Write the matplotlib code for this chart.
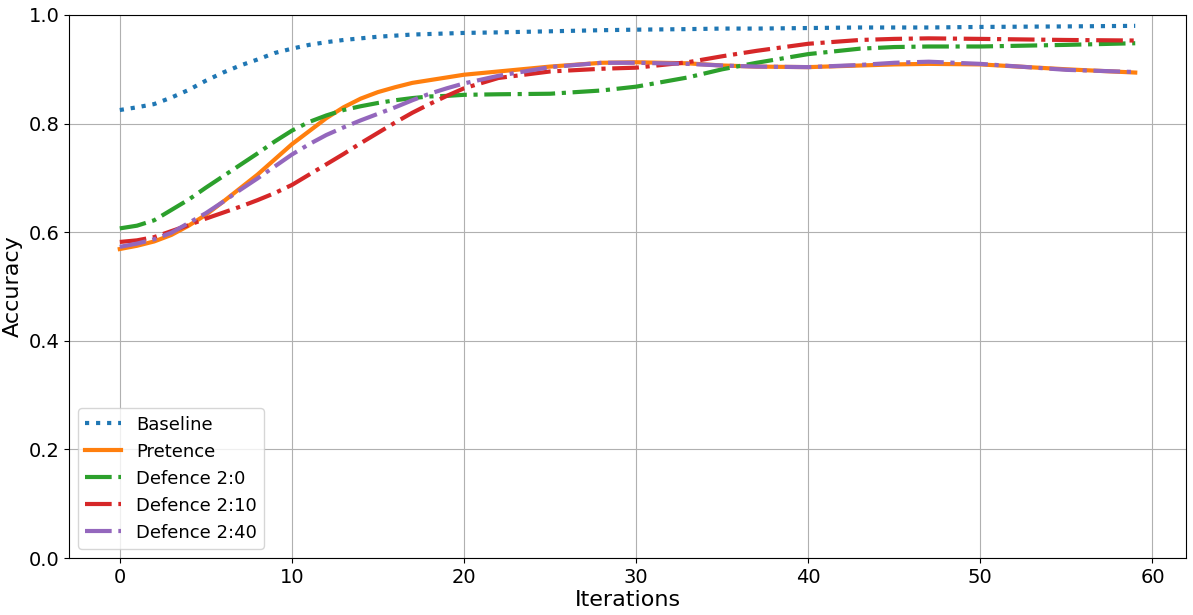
import matplotlib
matplotlib.use("Agg")
import matplotlib.pyplot as plt

iterations = [0, 1, 2, 3, 4, 5, 6, 7, 8, 9, 10, 11, 12, 13, 14, 15, 16, 17, 18, 19, 20,
              22, 25, 28, 30, 33, 35, 37, 40, 43, 45, 47, 50, 55, 59]

baseline = [0.825, 0.830, 0.836, 0.848, 0.862, 0.879, 0.894, 0.907, 0.918, 0.930, 0.938, 0.945, 0.950,
            0.954, 0.957, 0.960, 0.962, 0.964, 0.965, 0.966, 0.967,
            0.968, 0.970, 0.972, 0.973, 0.974, 0.975, 0.975, 0.976, 0.977, 0.977, 0.977, 0.978, 0.979, 0.980]
pretence = [0.569, 0.575, 0.583, 0.595, 0.612, 0.632, 0.656, 0.681, 0.706, 0.734, 0.762, 0.786, 0.810,
            0.830, 0.846, 0.858, 0.867, 0.875, 0.880, 0.885, 0.890,
            0.896, 0.905, 0.912, 0.913, 0.911, 0.907, 0.905, 0.904, 0.907, 0.909, 0.910, 0.909, 0.900, 0.894]
defence_2_0 = [0.607, 0.612, 0.622, 0.641, 0.660, 0.682, 0.703, 0.724, 0.745, 0.767, 0.787, 0.803, 0.815,
               0.825, 0.832, 0.838, 0.843, 0.847, 0.850, 0.851, 0.853,
               0.854, 0.855, 0.861, 0.868, 0.885, 0.900, 0.912, 0.928, 0.938, 0.941, 0.942, 0.942, 0.945, 0.948]
defence_2_10 = [0.582, 0.585, 0.591, 0.602, 0.613, 0.625, 0.636, 0.647, 0.659, 0.672, 0.687, 0.706, 0.725,
                0.744, 0.764, 0.783, 0.802, 0.820, 0.836, 0.851, 0.865,
                0.884, 0.896, 0.901, 0.903, 0.913, 0.924, 0.934, 0.947, 0.954, 0.956, 0.957, 0.956, 0.954, 0.953]
defence_2_40 = [0.573, 0.579, 0.587, 0.599, 0.617, 0.635, 0.656, 0.678, 0.699, 0.721, 0.743, 0.762, 0.779,
                0.793, 0.806, 0.818, 0.830, 0.843, 0.855, 0.865, 0.874,
                0.888, 0.904, 0.912, 0.912, 0.910, 0.907, 0.905, 0.904, 0.908, 0.912, 0.914, 0.910, 0.899, 0.895]

series = [
    ("Baseline", baseline, ":", "#1f77b4"),
    ("Pretence", pretence, "-", "#ff7f0e"),
    ("Defence 2:0", defence_2_0, "-.", "#2ca02c"),
    ("Defence 2:10", defence_2_10, "-.", "#d62728"),
    ("Defence 2:40", defence_2_40, "-.", "#9467bd"),
]

fig = plt.figure(figsize=(11.93, 6.15), dpi=100)
ax = fig.add_axes([69 / 1193, 1 - 558 / 615, (1186 - 69) / 1193, (558 - 15) / 615])

for name, vals, ls, col in series:
    ax.plot(iterations, vals, linestyle=ls, color=col, linewidth=3, label=name)

ax.set_ylim(0, 1.0)
ax.set_xlim(-2.95, 61.95)
ax.set_xticks([0, 10, 20, 30, 40, 50, 60])
ax.set_yticks([0.0, 0.2, 0.4, 0.6, 0.8, 1.0])
ax.grid(True, color="#b0b0b0", linewidth=0.8)
ax.set_axisbelow(True)
ax.tick_params(labelsize=14)
ax.set_xlabel("Iterations", fontsize=16, labelpad=2)
ax.set_ylabel("Accuracy", fontsize=16, labelpad=4)
ax.legend(loc="lower left", fontsize=13)

fig.savefig("out.png", dpi=100)
